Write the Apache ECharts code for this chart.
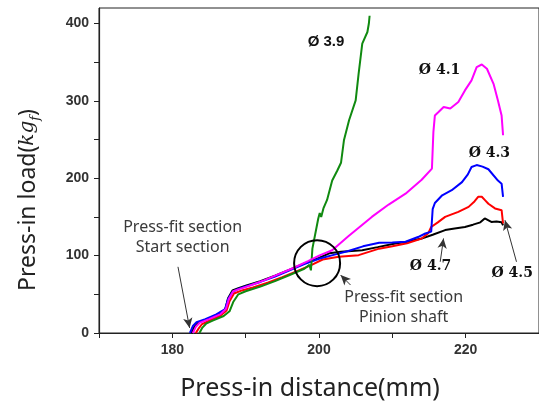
<!DOCTYPE html>
<html>
<head>
<meta charset="utf-8">
<script src="https://cdn.jsdelivr.net/npm/echarts@6/dist/echarts.min.js"></script>
<style>html,body{margin:0;padding:0;background:#fff}#c{width:539px;height:405px}</style>
</head>
<body>
<div id="c"></div>
<script>
// ---- data ----
const xTickLabels = [180, 200, 220];
const yTickLabels = [0, 100, 200, 300, 400];

const blackX = [182.6,183.0,183.5,184.5,186,187.2,187.6,188.2,189,190,192,194,196,198,200,201.4,203,205.9,208,210.4,212,214,215.5,217.2,218.5,219.9,221,222,222.6,223.5,224.2,224.9,225.1];
const blackY = [0,8,13,17,23,30,45,55,58,61,67,74,82,90,97,103,105,107,111,115.7,118,122,127,133,135,137,140,143,148,143.6,144,143,139];

const redX = [183.2,183.6,184,185,186.5,187.4,187.8,188.4,189.5,191,193,195,197,199,200.5,202.7,205.4,208.2,210,212,214,214.9,215.3,216.2,217.2,218,219,220.4,221.2,221.7,222.2,222.6,223.1,224,224.9,225.1];
const redY = [0,6,11,16,22,29,41,51,55,59,65,72,80,88,95,98.5,100.6,109,112,116,122,129,137,143,150,153,156.5,163,170,176,176,172,167,161,158.7,141.5];

const blueX = [182.4,182.8,183.3,184.5,186,187.2,187.6,188.2,189,190,192,194,196,198,200,202,204,206,208.2,210,211.8,213.5,214.5,215.3,215.5,215.8,216.8,218.1,219.5,220.3,220.8,221.5,222.3,223.1,224.4,224.9,225.1];
const blueY = [0,9,14,18,24,31,44,53,57,60,66,73,81,89,96,101,106,112,116.5,117,118,124,128.6,131,160,168,178,184.5,195,205,214.6,217,215,211.6,197,193,176];

const magentaX = [182.8,183.2,183.7,185,186.5,187.3,187.7,188.3,189.2,190.5,192.5,194.5,196.5,198.5,200,201.8,204,207.2,209.5,211.8,214,215.4,215.6,215.8,216.3,217,217.9,219,219.9,220.8,221.5,222.2,222.9,223.8,224.4,224.9,225.1];
const magentaY = [0,8,13,18,24,31,44,54,57,61,68,76,84,93,100,107,125,150,166,180,198,212.5,260,281,285.5,292,290,298.5,313.5,326.5,343.6,347,341.5,322,300.6,281,255.5];

const greenX = [183.7,184.1,184.6,185.5,187,187.8,188.3,189,190,192,194,196,198,198.7,198.9,199.1,199.9,200.1,200.3,200.6,201.1,201.8,202.5,203,203.4,204.1,205,205.4,205.9,206.6,206.8,206.9];
const greenY = [0,7,12,16,22,28,40,50,54,60,67,75,83,88,81,109,148,155,150,161,172,197,210,220,249,275,300.6,335,374,389,400,410];

const seriesNames = ['Ø 4.7','Ø 4.5','Ø 4.3','Ø 4.1','Ø 3.9'];

// annotation anchors (data coordinates)
const labelPos = {
  'Ø 3.9': [200.96, 376.8],
  'Ø 4.1': [216.44, 339.4],
  'Ø 4.3': [223.23, 232.3],
  'Ø 4.7': [215.21, 86.5],
  'Ø 4.5': [226.35, 77.4]
};
const arrows = [
  [[180.77, 85.5], [182.36, 6.5]],
  [[204.3, 62], [202.95, 74.8]],
  [[216.53, 92], [216.98, 122.2]],
  [[226.93, 92], [225.36, 145.8]]
];
const circleCenter = [199.74, 90.3];
const notes = [
  {text: 'Press-fit section\nStart section', at: [181.4, 123.9]},
  {text: 'Press-fit section\nPinion shaft', at: [211.55, 33.5]}
];

// ---- build ----
const zip = (xs, ys) => xs.map((x, i) => [x, ys[i]]);
const chart = echarts.init(document.getElementById('c'), null, {renderer: 'canvas'});

function line(name, xs, ys, color, extra) {
  return Object.assign({
    name, type: 'line', data: zip(xs, ys), showSymbol: false, symbol: 'none',
    lineStyle: {color, width: 2}, itemStyle: {color}, animation: false, silent: true, clip: true
  }, extra || {});
}

const markPointData = [];
Object.keys(labelPos).forEach(k => {
  const sans = k === 'Ø 3.9';
  markPointData.push({
    coord: labelPos[k], symbol: 'circle', symbolSize: 0,
    label: {show: true, position: 'inside', formatter: k, color: '#111',
      fontFamily: sans ? 'Liberation Sans' : 'DejaVu Serif', fontWeight: 'bold', fontSize: sans ? 15 : 14}
  });
});
notes.forEach(n => {
  markPointData.push({
    coord: n.at, symbol: 'circle', symbolSize: 0,
    label: {show: true, position: 'inside', formatter: n.text, color: '#3a3a3a',
      fontFamily: 'Noto Sans', fontSize: 16, lineHeight: 20}
  });
});
markPointData.push({
  coord: circleCenter, symbol: 'circle', symbolSize: 46,
  itemStyle: {color: 'transparent', borderColor: '#000', borderWidth: 2},
  label: {show: false}
});

const option = {
  backgroundColor: '#fff',
  animation: false,
  grid: {left: 99, right: -2, top: 8, bottom: 72, show: true, borderColor: '#222', borderWidth: 1, backgroundColor: 'transparent'},
  xAxis: {
    type: 'value', min: 170, max: 230,
    axisLine: {show: true, lineStyle: {color: '#222', width: 1.2}},
    axisTick: {show: true, inside: false, length: 5, lineStyle: {color: '#222'},
      customValues: [170,180,190,200,210,220,230]},
    axisLabel: {show: true, margin: 10, color: '#333', fontWeight: 'bold', fontSize: 14,
      fontFamily: 'Liberation Sans', customValues: xTickLabels},
    splitLine: {show: false}
  },
  yAxis: {
    type: 'value', min: 0, max: 420,
    axisLine: {show: true, lineStyle: {color: '#222', width: 1.2}},
    axisTick: {show: true, inside: false, length: 5, lineStyle: {color: '#222'},
      customValues: [0,50,100,150,200,250,300,350,400]},
    axisLabel: {show: true, margin: 10, color: '#333', fontWeight: 'bold', fontSize: 14,
      fontFamily: 'Liberation Sans', customValues: yTickLabels},
    splitLine: {show: false}
  },
  series: [
    line(seriesNames[0], blackX, blackY, '#000000', {
      markLine: {
        silent: true, animation: false, symbol: ['none', 'arrow'], symbolSize: [7, 10],
        lineStyle: {color: '#333', width: 1, type: 'solid'}, label: {show: false},
        data: arrows.map(a => [{coord: a[0]}, {coord: a[1]}])
      },
      markPoint: {silent: true, animation: false, data: markPointData}
    }),
    line(seriesNames[1], redX, redY, '#ff0000'),
    line(seriesNames[2], blueX, blueY, '#0000ff'),
    line(seriesNames[4], greenX, greenY, '#108a10'),
    line(seriesNames[3], magentaX, magentaY, '#ff00ff')
  ],
  graphic: [
    {type: 'text', x: 28, y: 200, rotation: Math.PI / 2,
      style: {text: '{a|Press-in load(}{b|kg}{c|f}{a|)}', align: 'center', verticalAlign: 'middle',
        rich: {
          a: {fontFamily: 'Noto Sans', fontSize: 23, fill: '#222', color: '#222', lineHeight: 28},
          b: {fontFamily: 'DejaVu Serif', fontStyle: 'italic', fontSize: 20, fill: '#222', color: '#222', lineHeight: 28},
          c: {fontFamily: 'DejaVu Serif', fontStyle: 'italic', fontSize: 13, fill: '#222', color: '#222', lineHeight: 28, verticalAlign: 'bottom', padding: [10, 0, 0, 0]}
        }}},
    {type: 'text', x: 310, y: 389,
      style: {text: 'Press-in distance(mm)', align: 'center', verticalAlign: 'middle',
        font: '25px "Noto Sans"', fill: '#222'}}
  ]
};
chart.setOption(option);
</script>
</body>
</html>
